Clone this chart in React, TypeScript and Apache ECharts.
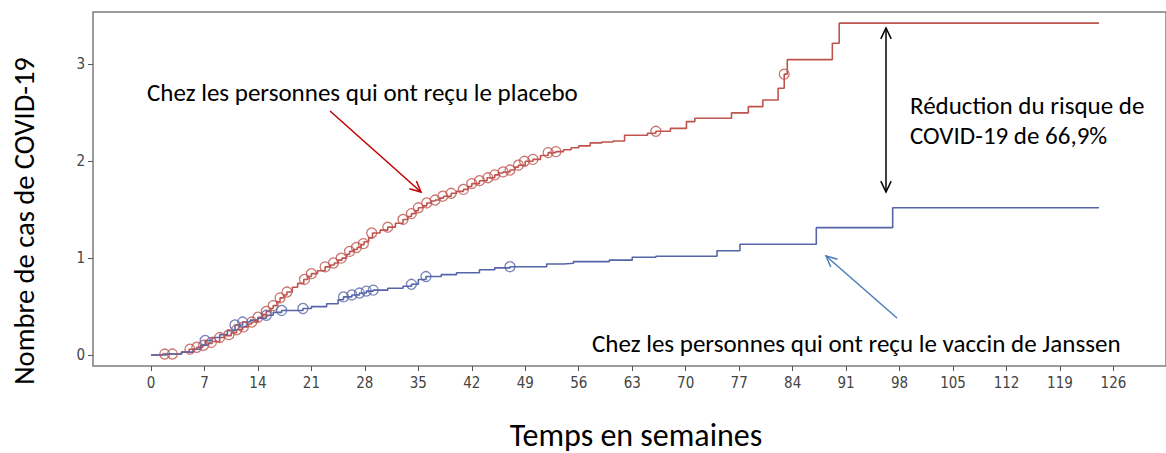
import React, { useEffect, useRef } from "react";
import * as echarts from "echarts";

// ---- data ----
const xTicks = [0, 7, 14, 21, 28, 35, 42, 49, 56, 63, 70, 77, 84, 91, 98, 105, 112, 119, 126];
const yTicks = [0, 1, 2, 3];

// Kaplan-Meier style cumulative incidence (%), [week, value]
const placeboSteps = [
  [0, 0], [1.5, 0.01], [4, 0.03], [5, 0.06], [6, 0.08], [6.8, 0.1], [7.5, 0.12], [8, 0.14], [9, 0.18],
  [9.6, 0.2], [10.5, 0.23], [11.2, 0.26], [12, 0.29], [12.7, 0.32], [13.2, 0.34], [14, 0.39], [14.6, 0.42],
  [15.1, 0.45], [15.6, 0.48], [16, 0.51], [16.5, 0.55], [16.9, 0.59], [17.4, 0.62], [17.8, 0.65], [18.5, 0.7],
  [19.2, 0.74], [20, 0.78], [20.5, 0.81], [21, 0.84], [21.8, 0.87], [22.8, 0.91], [23.5, 0.93], [24, 0.95],
  [24.5, 0.98], [25, 1.0], [25.6, 1.04], [26, 1.07], [26.5, 1.09], [27, 1.11], [27.5, 1.14], [27.9, 1.17],
  [28.5, 1.21], [29, 1.26], [30, 1.29], [31, 1.32], [32, 1.36], [33, 1.4], [33.6, 1.43], [34.1, 1.46],
  [34.6, 1.49], [35, 1.52], [35.6, 1.54], [36.1, 1.57], [36.7, 1.59], [37.2, 1.6], [37.8, 1.62], [38.3, 1.64],
  [39.3, 1.67], [40, 1.69], [40.9, 1.71], [41.5, 1.74], [42, 1.77], [43, 1.8], [44, 1.83], [45, 1.86],
  [45.5, 1.88], [46.1, 1.89], [47, 1.91], [47.6, 1.94], [48.1, 1.96], [49, 2.0], [50, 2.02], [51, 2.06],
  [52, 2.09], [53, 2.1], [54, 2.12], [55, 2.14], [56, 2.16], [57.5, 2.19], [59, 2.2], [60.5, 2.21],
  [62, 2.27], [65, 2.29], [66.1, 2.31], [68, 2.34], [70.1, 2.41], [71.2, 2.445], [76, 2.5], [78.2, 2.565],
  [80.1, 2.634], [82.1, 2.755], [82.9, 2.9], [83.3, 3.05], [89.2, 3.22], [90.1, 3.427], [124.1, 3.427],
];
const placeboCensored = [
  [1.8, 0.01], [2.8, 0.01], [5.1, 0.06], [6.0, 0.08], [6.9, 0.1], [7.9, 0.13], [9.0, 0.18], [10.2, 0.21],
  [11.2, 0.26], [12.1, 0.29], [13.2, 0.34], [14.0, 0.39], [15.1, 0.45], [16.0, 0.51], [16.9, 0.59],
  [17.8, 0.65], [20.1, 0.78], [21.0, 0.84], [22.8, 0.91], [23.9, 0.95], [24.9, 1.0], [26.0, 1.07],
  [26.9, 1.11], [27.8, 1.15], [28.9, 1.26], [31.0, 1.32], [33.0, 1.4], [34.1, 1.46], [35.0, 1.52],
  [36.1, 1.57], [37.2, 1.6], [38.2, 1.64], [39.3, 1.67], [40.9, 1.71], [42.0, 1.77], [43.0, 1.8],
  [44.1, 1.83], [45.0, 1.86], [46.1, 1.89], [47.0, 1.91], [48.1, 1.96], [48.9, 2.0], [50.0, 2.02],
  [52.0, 2.09], [53.0, 2.1], [66.1, 2.31], [82.9, 2.9],
];

const vaccineSteps = [
  [0, 0], [2, 0.01], [4, 0.03], [5.5, 0.06], [6.5, 0.1], [7.1, 0.15], [8, 0.18], [9, 0.21], [10, 0.25],
  [11, 0.31], [12, 0.34], [13, 0.36], [14, 0.38], [15.1, 0.41], [16, 0.44], [17.1, 0.46], [19.9, 0.48],
  [21, 0.5], [23, 0.53], [24.5, 0.57], [25.2, 0.6], [26.3, 0.62], [27.3, 0.64], [28.2, 0.66], [29.1, 0.67],
  [31, 0.69], [33, 0.71], [34.1, 0.73], [35, 0.78], [36, 0.81], [38, 0.83], [40, 0.85], [43, 0.88],
  [45, 0.9], [47, 0.912], [51.8, 0.94], [54, 0.947], [55.3, 0.964], [60, 0.98], [63, 1.009], [66.1, 1.02],
  [74.1, 1.077], [77.1, 1.143], [87.1, 1.315], [97.1, 1.52], [124.1, 1.52],
];
const vaccineCensored = [
  [7.1, 0.15], [11.0, 0.31], [12.0, 0.34], [15.1, 0.41], [17.1, 0.46], [19.9, 0.48], [25.2, 0.6],
  [26.3, 0.62], [27.3, 0.64], [28.2, 0.66], [29.1, 0.67], [34.1, 0.73], [36.0, 0.81], [47.0, 0.912],
];

const placeboLabel = "Chez les personnes qui ont reçu le placebo";
const vaccineLabel = "Chez les personnes qui ont reçu le vaccin de Janssen";
const reductionLines = ["Réduction du risque de", "COVID-19 de 66,9%"];
const xTitle = "Temps en semaines";
const yTitle = "Nombre de cas de COVID-19";

// ---- styles ----
const RED = "#bf544e";
const BLUE = "#5565a8";
const TEXT_FONT = "Carlito, Lato, 'Open Sans', sans-serif";
const TICK_FONT = "'Liberation Sans Narrow', 'DejaVu Sans Condensed', 'Roboto Condensed', Roboto, sans-serif";

function arrowHead(x1: number, y1: number, x2: number, y2: number, len: number, ang: number) {
  const a = Math.atan2(y1 - y2, x1 - x2);
  return [
    [x2 + len * Math.cos(a + ang), y2 + len * Math.sin(a + ang)],
    [x2, y2],
    [x2 + len * Math.cos(a - ang), y2 + len * Math.sin(a - ang)],
  ];
}

function arrow(x1: number, y1: number, x2: number, y2: number, color: string, both = false) {
  const els: any[] = [
    { type: "line", shape: { x1, y1, x2, y2 }, style: { stroke: color, lineWidth: 1.5 } },
    { type: "polyline", shape: { points: arrowHead(x1, y1, x2, y2, 12, Math.PI / 7) }, style: { stroke: color, lineWidth: 1.5, fill: null } },
  ];
  if (both) {
    els.push({ type: "polyline", shape: { points: arrowHead(x2, y2, x1, y1, 12, Math.PI / 7) }, style: { stroke: color, lineWidth: 1.5, fill: null } });
  }
  return els;
}

export default function App() {
  const ref = useRef<HTMLDivElement>(null);
  useEffect(() => {
    if (!ref.current) return;
    const chart = echarts.init(ref.current, null, { renderer: "svg" });
    const textStyle = (size: number) => ({ fill: "#000", font: `${size}px ${TEXT_FONT}` });
    chart.setOption({
      animation: false,
      backgroundColor: "#fff",
      grid: {
        left: 93, right: -1, top: 12, bottom: 87,
        show: true, borderColor: "#7c7c7c", borderWidth: 1.5, backgroundColor: "transparent",
      },
      xAxis: {
        type: "value", min: -7.59, max: 132.88,
        splitLine: { show: false },
        axisLine: { show: false, onZero: false },
        axisTick: { show: true, customValues: xTicks, length: 5, lineStyle: { color: "#555", width: 1 } },
        axisLabel: { customValues: xTicks, margin: 9, fontSize: 15, color: "#444", fontFamily: TICK_FONT },
      },
      yAxis: {
        type: "value", min: -0.1136, max: 3.542,
        splitLine: { show: false },
        axisLine: { show: false, onZero: false },
        axisTick: { show: true, customValues: yTicks, length: 5, lineStyle: { color: "#555", width: 1 } },
        axisLabel: { customValues: yTicks, margin: 8, fontSize: 15, color: "#444", fontFamily: TICK_FONT },
      },
      series: [
        { type: "line", step: "end", data: placeboSteps, showSymbol: false, lineStyle: { color: RED, width: 1.6 }, z: 2 },
        { type: "line", step: "end", data: vaccineSteps, showSymbol: false, lineStyle: { color: BLUE, width: 1.6 }, z: 2 },
        {
          type: "scatter", data: placeboCensored, symbol: "circle", symbolSize: 10, z: 3,
          itemStyle: { color: "rgba(255,255,255,0)", borderColor: RED, borderWidth: 1.3 },
        },
        {
          type: "scatter", data: vaccineCensored, symbol: "circle", symbolSize: 10, z: 3,
          itemStyle: { color: "rgba(255,255,255,0)", borderColor: BLUE, borderWidth: 1.3 },
        },
      ],
      graphic: [
        { type: "text", x: 147, y: 92, style: { ...textStyle(25), text: placeboLabel, verticalAlign: "middle" } },
        { type: "text", x: 592, y: 343, style: { ...textStyle(25), text: vaccineLabel, verticalAlign: "middle" } },
        { type: "text", x: 910, y: 105, style: { ...textStyle(25), text: reductionLines[0], verticalAlign: "middle" } },
        { type: "text", x: 910, y: 135, style: { ...textStyle(25), text: reductionLines[1], verticalAlign: "middle" } },
        {
          type: "text", x: 636, y: 435,
          style: { ...textStyle(32), text: xTitle, align: "center", verticalAlign: "middle" },
        },
        {
          type: "text", x: 24, y: 221, rotation: Math.PI / 2,
          style: { ...textStyle(28.5), text: yTitle, align: "center", verticalAlign: "middle" },
        },
        ...arrow(330, 111, 421, 192, "#c00000"),
        ...arrow(897, 318, 826, 256, "#4a7ebb"),
        ...arrow(886, 192, 886, 28, "#000", true),
      ],
    });
    return () => chart.dispose();
  }, []);
  return <div ref={ref} style={{ width: 1166, height: 453, position: "absolute", left: 0, top: 0 }} />;
}
